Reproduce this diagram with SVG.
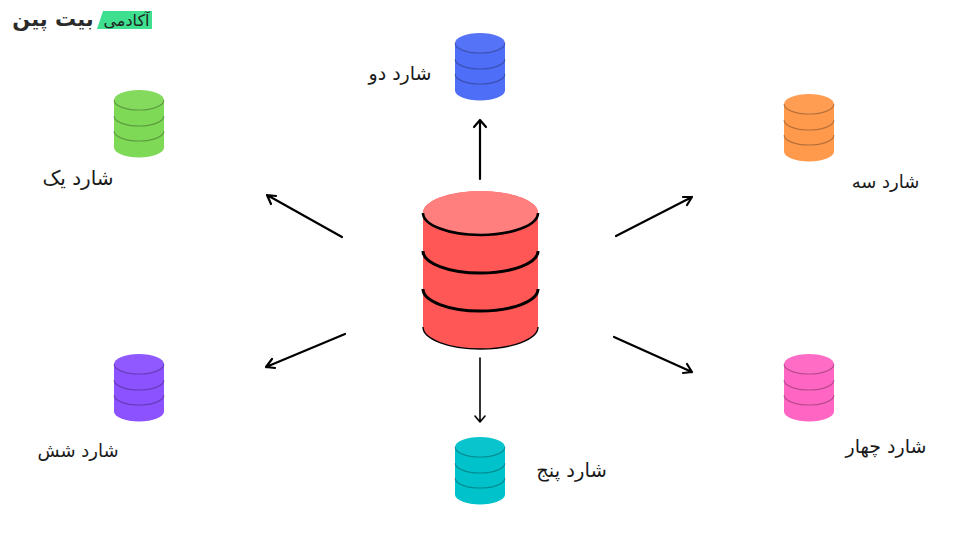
<svg xmlns="http://www.w3.org/2000/svg" width="960" height="540" viewBox="0 0 960 540">
<style>
.lbl{font-family:"DejaVu Sans","Noto Sans CJK SC",sans-serif;font-size:19px;fill:#1a1a1a;text-anchor:middle}
.ln{fill:none;stroke-width:1.2}
.big{fill:none;stroke:#000;stroke-width:2.6}
.arw{fill:none;stroke:#000;stroke-width:2.2;stroke-linecap:round;stroke-linejoin:round}
</style>
<defs>
<g id="cyl">
<path d="M0 10A25 10 0 0 1 50 10V57.500A25 10 0 0 1 0 57.500Z" fill="currentColor"/>
<path class="ln" d="M0 10A25 10 0 0 0 50 10M0 26A25 10 0 0 0 50 26M0 41A25 10 0 0 0 50 41" stroke="#000" stroke-opacity=".28"/>
<ellipse cx="25" cy="10" rx="25" ry="10" fill="#fff" fill-opacity=".04"/>
</g>
</defs>
<rect width="960" height="540" fill="#fff"/>
<g id="logo">
<path d="M103 11H152V29H97Z" fill="#3ee08f"/>
<text x="126.500" y="26" font-family="DejaVu Sans,sans-serif" font-size="16" fill="#222" text-anchor="middle">آکادمی</text>
<text x="53" y="26" font-family="DejaVu Sans,sans-serif" font-size="21" font-weight="700" fill="#2b2b2b" text-anchor="middle">بیت پین</text>
</g>
<g id="center">
<path d="M423 213A57.500 22 0 0 1 538 213V327A57.500 22 0 0 1 423 327Z" fill="#ff5656"/>
<ellipse cx="480.500" cy="213" rx="57.500" ry="22" fill="#ff7f7f"/>
<path class="big" d="M423 213A57.500 22 0 0 0 538 213"/>
<path class="big" d="M423 251A57.500 22 0 0 0 538 251M423 289A57.500 22 0 0 0 538 289" style="stroke-width:3"/>
<path d="M423 327A57.500 22 0 0 0 538 327" fill="none" stroke="#000" stroke-width="1.4"/>
</g>
<g id="shard1" color="#7ed957"><use href="#cyl" x="114" y="90"/><text class="lbl" x="78" y="185" style="font-size:20px">شارد یک</text></g>
<g id="shard2" color="#4f6ef7"><use href="#cyl" x="455" y="33"/><text class="lbl" x="400" y="80">شارد دو</text></g>
<g id="shard3" color="#ff9a4d"><use href="#cyl" x="784" y="94"/><text class="lbl" x="885.500" y="188" style="font-size:18px">شارد سه</text></g>
<g id="shard4" color="#ff66c4"><use href="#cyl" x="784" y="354"/><text class="lbl" x="886" y="453">شارد چهار</text></g>
<g id="shard5" color="#00c2cb"><use href="#cyl" x="455" y="437"/><text class="lbl" x="571.500" y="477" style="font-size:19.500px">شارد پنج</text></g>
<g id="shard6" color="#8c52ff"><use href="#cyl" x="114" y="354"/><text class="lbl" x="78" y="457" style="font-size:18px">شارد شش</text></g>
<g id="connectors">
<path class="arw" d="M480 179V120M474 127L480 120L486 127"/>
<path class="arw" d="M342 237L267 195M276 196L267 195L271 204"/>
<path class="arw" d="M616 236L692 197M683 197L692 197L687 205"/>
<path class="arw" d="M345 334L266 367M272 359L266 367L275 368"/>
<path class="arw" d="M614 337L692 372M687 364L692 372L683 373"/>
<path class="arw" style="stroke-width:1.6" d="M480 358V422M475 416L480 422L485 416"/>
</g>
</svg>
